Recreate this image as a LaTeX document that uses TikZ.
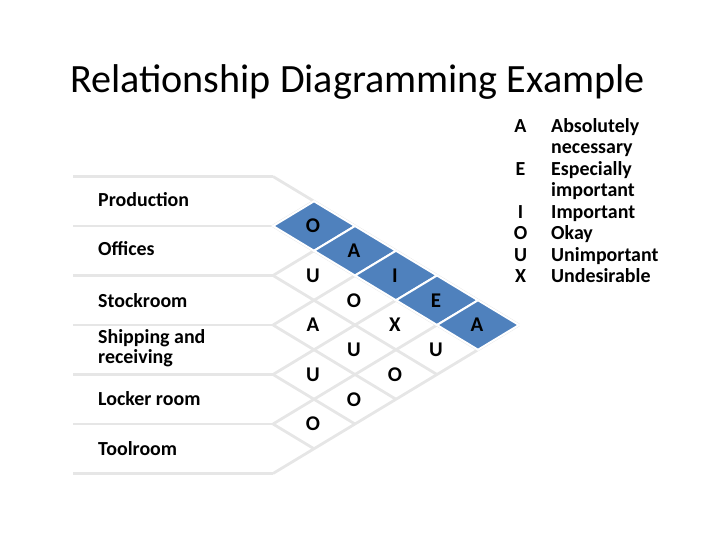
\documentclass[tikz,border=0pt]{standalone}
\usepackage{fontspec}
\setmainfont{Carlito}
\definecolor{relblue}{HTML}{4F81BD}
\definecolor{gridgray}{HTML}{E6E6E6}
\tikzset{
    gridline/.style={draw=gridgray, line width=2.8bp},
    dept/.style={anchor=base west, inner sep=0pt, align=left,
        font=\bfseries\fontsize{20}{20}\selectfont},
    rating/.style={inner sep=0pt, font=\bfseries\fontsize{21}{24}\selectfont},
    keyletter/.style={anchor=base, inner sep=0pt, font=\bfseries\fontsize{20}{24}\selectfont},
    keytext/.style={anchor=base west, inner sep=0pt, align=left,
        font=\bfseries\fontsize{20}{21.5}\selectfont}
}
\begin{document}
\begin{tikzpicture}[x=1bp,y=-1bp]
    \useasboundingbox (0,0) rectangle (720,540);
    \node[anchor=base, inner sep=0pt, font=\fontsize{40.3}{48}\selectfont] (title) at (357.5,93) {Relationship Diagramming Example};

    % rows and the diagonal grid
    \foreach \k in {0,...,6} {
        \draw [gridline] (73,{176.5+49.5*\k}) -- (273,{176.5+49.5*\k});
    }
    \foreach \k in {0,...,5} {
        \draw [gridline] (273,{176.5+49.5*\k}) -- ({273+41*(6-\k)},{325+24.75*\k});
    }
    \foreach \k in {1,...,6} {
        \draw [gridline] (273,{176.5+49.5*\k}) -- ({273+41*\k},{176.5+24.75*\k});
    }

    % production row shaded
    \foreach \j in {1,...,5} {
        \fill [relblue, draw=white, line width=2bp] ({273+41*\j},{201.25+24.75*\j})
            +(-41,0) -- +(0,-24.75) -- +(41,0) -- +(0,24.75) -- cycle;
    }

    \node[dept] (prod) at (98,207) {Production};
    \node[dept] (offices) at (98,256) {Offices};
    \node[dept] (stock) at (98,307) {Stockroom};
    \node[dept] (ship) at (98,363) {Shipping and\\receiving};
    \node[dept] (locker) at (98,405) {Locker room};
    \node[dept] (tool) at (98,455) {Toolroom};

    \foreach \i/\j/\r in {0/1/O,0/2/A,0/3/I,0/4/E,0/5/A,1/2/U,1/3/O,1/4/X,1/5/U,
            2/3/A,2/4/U,2/5/O,3/4/U,3/5/O,4/5/O} {
        \node[rating] (r\i\j) at ({272+41*(\j-\i)},{201.25+24.75*(\i+\j)}) {\r};
    }

    % key
    \foreach \l/\y in {A/132.5,E/175.5,I/218.5,O/239.5,U/261.5,X/282.5} {
        \node[keyletter] (key\l) at (520.5,\y) {\l};
    }
    \node[keytext] (keyA) at (551,154) {Absolutely\\necessary};
    \node[keytext] (keyE) at (551,197) {Especially\\important};
    \node[keytext] (keyI) at (551,218.5) {Important};
    \node[keytext] (keyO) at (551,239.5) {Okay};
    \node[keytext] (keyU) at (551,261.5) {Unimportant};
    \node[keytext] (keyX) at (551,282.5) {Undesirable};
\end{tikzpicture}
\end{document}
